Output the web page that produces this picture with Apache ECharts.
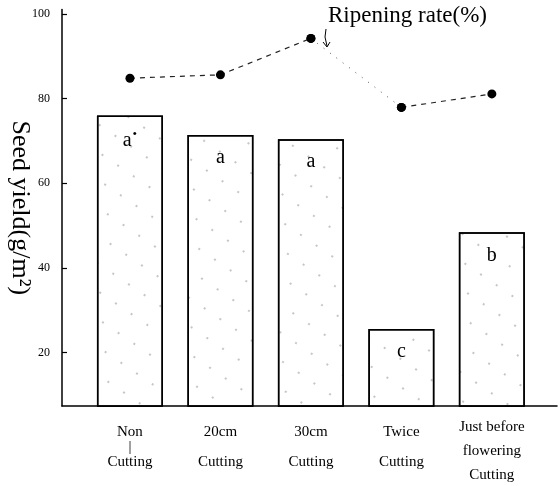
<!DOCTYPE html>
<html>
<head>
<meta charset="utf-8">
<script src="https://cdn.jsdelivr.net/npm/echarts@6/dist/echarts.min.js"></script>
<style>html,body{margin:0;padding:0;background:#fff;}#c{width:560px;height:486px;}</style>
</head>
<body>
<div id="c"></div>
<script>
// Data
const categories = ['Non Cutting', '20cm Cutting', '30cm Cutting', 'Twice Cutting', 'Just before flowering Cutting'];
const categoryLines = [
  ['Non', '|', 'Cutting'],
  ['20cm', ' ', 'Cutting'],
  ['30cm', ' ', 'Cutting'],
  ['Twice', ' ', 'Cutting'],
  ['Just before', 'flowering', 'Cutting']
];
const seedYield = [76, 71.4, 70.4, 25.6, 48.4];
const sigLetters = ['a', 'a', 'a', 'c', 'b'];
const ripeningRate = [84.8, 85.6, 94.2, 77.9, 81.1];
const yTicks = [20, 40, 60, 80, 100];

const serif = '"Liberation Serif", "DejaVu Serif", serif';

const barData = seedYield.map((v, i) => [i, v]);
const ripePts = ripeningRate.map((v, i) => [i, v]);
const blackDecal = { symbol: 'rect', symbolSize: 1, color: '#000' };

const chart = echarts.init(document.getElementById('c'));
chart.setOption({
  animation: false,
  backgroundColor: '#fff',
  aria: { enabled: true, decal: { show: true } },
  grid: { left: 62, right: 3, top: 9.6, bottom: 80, containLabel: false, outerBoundsMode: 'none' },
  xAxis: {
    type: 'value',
    min: -0.751,
    max: 4.72,
    splitLine: { show: false },
    axisLine: { show: true, onZero: false, lineStyle: { color: '#000', width: 1.5 } },
    axisTick: { show: false },
    axisLabel: {
      customValues: [0, 1, 2, 3, 4],
      margin: 9,
      fontFamily: serif,
      fontSize: 15,
      color: '#000',
      formatter: function (v) {
        const i = Math.round(v);
        const lines = categoryLines[i];
        if (i === 4) return lines.map(l => '{b|' + l + '}').join('\n');
        return '{s| }\n' + lines.map(l => '{a|' + l + '}').join('\n');
      },
      rich: {
        s: { fontFamily: serif, fontSize: 6, lineHeight: 10 },
        a: { fontFamily: serif, fontSize: 15, color: '#000', lineHeight: 15 },
        b: { fontFamily: serif, fontSize: 15, color: '#000', lineHeight: 24 }
      }
    }
  },
  yAxis: {
    type: 'value',
    min: 7.4,
    max: 101,
    name: 'Seed yield(g/m²)',
    nameLocation: 'middle',
    nameRotate: -90,
    nameGap: 29,
    nameMoveOverlap: false,
    nameTextStyle: { fontFamily: serif, fontSize: 26, color: '#000' },
    splitLine: { show: false },
    axisLine: { show: true, onZero: false, lineStyle: { color: '#000', width: 1.5 } },
    axisTick: { show: true, inside: true, length: 5, customValues: yTicks, lineStyle: { color: '#000', width: 1.2 } },
    axisLabel: { customValues: yTicks, margin: 12, fontFamily: serif, fontSize: 12, color: '#000' }
  },
  series: [
    {
      type: 'bar',
      data: barData,
      barWidth: 66,
      itemStyle: {
        color: '#fff',
        borderColor: '#000',
        borderWidth: 1.5,
        decal: {
          symbol: 'circle',
          symbolSize: 1,
          color: 'rgba(0,0,0,0.3)',
          dashArrayX: [[1.5, 17], [1.5, 17]],
          dashArrayY: [1.5, 21],
          rotation: 0.6
        }
      },
      label: {
        show: true,
        position: 'insideTop',
        distance: 13,
        fontFamily: serif,
        fontSize: 20,
        color: '#000',
        formatter: function (p) {
          return p.dataIndex === 0 ? sigLetters[0] + '{d|•}' : sigLetters[p.dataIndex];
        },
        rich: { d: { fontSize: 13, color: '#000', verticalAlign: 'top', padding: [0, 0, 12, 1] } }
      },
      z: 2
    },
    {
      type: 'line',
      data: ripePts.slice(0, 3),
      symbol: 'circle',
      symbolSize: 9,
      itemStyle: { color: '#000', decal: blackDecal },
      lineStyle: { color: '#222', width: 1.2, type: [5, 5] },
      z: 5
    },
    {
      type: 'line',
      data: ripePts.slice(2, 4),
      symbol: 'circle',
      symbolSize: 9,
      itemStyle: { color: '#000', decal: blackDecal },
      lineStyle: { color: '#555', width: 1, type: [1, 7] },
      z: 5
    },
    {
      type: 'line',
      data: ripePts.slice(3, 5),
      symbol: 'circle',
      symbolSize: 9,
      itemStyle: { color: '#000', decal: blackDecal },
      lineStyle: { color: '#222', width: 1.2, type: [5, 5] },
      z: 5
    }
  ],
  graphic: [
    {
      type: 'text',
      left: 328,
      top: 4,
      style: { text: 'Ripening rate(%)', fontFamily: serif, fontSize: 23, fill: '#000' }
    },
    {
      type: 'polyline',
      shape: { points: [[326, 29], [325, 37], [327, 46]] },
      style: { stroke: '#000', lineWidth: 1, fill: null }
    },
    {
      type: 'polyline',
      shape: { points: [[323, 42], [327, 47], [330, 42]] },
      style: { stroke: '#000', lineWidth: 1, fill: null }
    }
  ]
});
</script>
</body>
</html>
